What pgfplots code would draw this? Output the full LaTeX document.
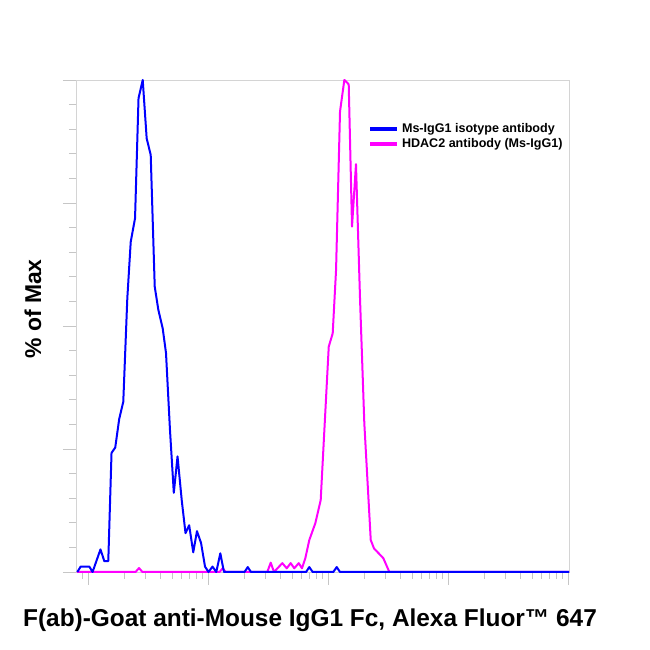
\documentclass[border=0pt]{standalone}
\usepackage{pgfplots}
\pgfplotsset{compat=1.18}
\usepackage{fontspec}
\setmainfont{Liberation Sans}
\definecolor{fblue}{HTML}{0000FF}
\definecolor{fmag}{HTML}{FF00FF}
\definecolor{frame}{HTML}{D4D4D4}
\begin{document}
\begin{tikzpicture}
\useasboundingbox (0bp,0bp) rectangle (650bp,650bp);
\begin{axis}[
  at={(76bp,78bp)}, anchor=south west,
  width=493bp, height=492bp, scale only axis,
  xmin=-0.1, xmax=4.008, ymin=0, ymax=100,
  clip=false,
  axis line style={frame, line width=0.8bp},
  tick pos=left, tick align=outside,
  major tick length=13bp, minor tick length=7bp,
  tick style={gray!45, line width=0.7bp},
  xtick={0,1,2,3,4},
  minor xtick={-0.04576,
    0.30103,0.47712,0.60206,0.69897,0.77815,0.84510,0.90309,0.95424,
    1.30103,1.47712,1.60206,1.69897,1.77815,1.84510,1.90309,1.95424,
    2.30103,2.47712,2.60206,2.69897,2.77815,2.84510,2.90309,2.95424,
    3.30103,3.47712,3.60206,3.69897,3.77815,3.84510,3.90309,3.95424},
  ytick={0,25,50,75,100}, minor y tick num=4,
  xticklabels={}, yticklabels={},
  legend style={at={(0.592,0.915)}, anchor=north west, draw=none, fill=none,
    inner sep=0pt, row sep=1.5bp,
    font=\bfseries\fontsize{12.6}{14}\selectfont,
    nodes={inner sep=1.5bp}},
  legend cell align=left,
  reverse legend,
  legend image code/.code={\draw[#1, line width=4bp] (0bp,0bp) -- (27bp,0bp);\path (29.5bp,0bp);},
]
\addplot[fmag, line width=2bp, line join=round] coordinates {
(-0.092,0) (0.396,0) (0.425,0.8) (0.454,0) (1.096,0) (1.1225,0.75) (1.1475,0)
(1.494,0) (1.5225,1.9) (1.55,0) (1.619,1.8) (1.656,0.75) (1.689,1.8)
(1.719,0.75) (1.756,1.8) (1.783,0.75) (1.811,2.8) (1.844,6.5) (1.894,9.9)
(1.939,14.6) (2.006,45.8) (2.039,48.5) (2.067,61.4) (2.1,93.6) (2.136,100)
(2.15,99.7) (2.1725,99.1) (2.2,70.2) (2.233,82.9) (2.267,55.3) (2.3025,30.2)
(2.356,6.5) (2.383,4.8) (2.461,2.8) (2.511,0) (4.008,0)
};
\addlegendentry{HDAC2 antibody (Ms-IgG1)}
\addplot[fblue, line width=2bp, line join=round] coordinates {
(-0.089,0) (-0.061,1.1) (0.011,1.1) (0.038,0) (0.104,4.6) (0.136,2.2)
(0.169,2.2) (0.196,24.2) (0.227,25.3) (0.26,31.1) (0.294,34.6) (0.3275,55.6)
(0.356,67.1) (0.392,71.9) (0.421,96.3) (0.456,100) (0.489,88.1) (0.5225,84.8)
(0.556,58.0) (0.586,53.3) (0.6225,49.5) (0.65,44.5) (0.683,28.9) (0.715,16.1)
(0.746,23.5) (0.781,14.6) (0.8125,7.9) (0.843,9.5) (0.877,4.0) (0.908,8.3)
(0.942,5.9) (0.975,1.1) (1.004,0) (1.0375,1.1) (1.069,0) (1.1025,3.8)
(1.133,0) (1.304,0) (1.331,1.0) (1.358,0) (1.817,0) (1.844,1.0) (1.872,0)
(2.044,0) (2.0725,1.0) (2.1,0) (4.008,0)
};
\addlegendentry{Ms-IgG1 isotype antibody}
\end{axis}
\node[anchor=base, font=\bfseries\fontsize{24.5}{28}\selectfont] at (310bp,24bp)
  {F(ab)-Goat anti-Mouse IgG1 Fc, Alexa Fluor™ 647};
\node[anchor=base, rotate=90, font=\bfseries\fontsize{23}{26}\selectfont] at (41bp,341bp)
  {\% of Max};
\end{tikzpicture}
\end{document}
